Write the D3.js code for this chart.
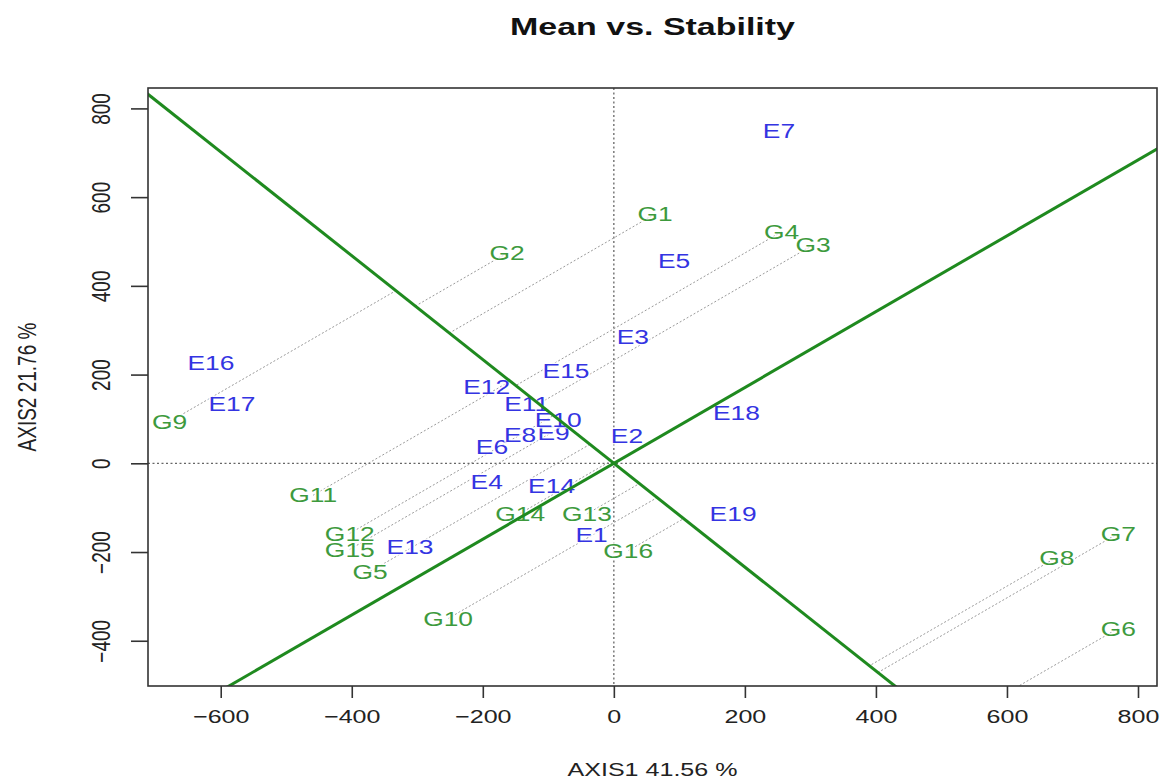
<!DOCTYPE html>
<html>
<head>
<meta charset="utf-8">
<script src="https://cdn.jsdelivr.net/npm/d3@7"></script>
<style>
  body { margin: 0; background: #fff; }
  text { font-family: "Liberation Sans", Arial, sans-serif; }
</style>
</head>
<body>
<svg id="chart" width="1163" height="780"></svg>
<script>
// GGE biplot scores (AXIS1, AXIS2)
const envNames = ["E1", "E2", "E3", "E4", "E5", "E6", "E7", "E8", "E9", "E10",
  "E11", "E12", "E13", "E14", "E15", "E16", "E17", "E18", "E19"];
const envX = [-34, 20, 29, -194, 92, -186, 252, -143, -92, -85,
  -133, -194, -311, -95, -73, -615, -583, 187, 182];
const envY = [-161, 62, 285, -42, 456, 37, 749, 64, 68, 99,
  135, 173, -188, -51, 209, 226, 135, 113, -114];

const genNames = ["G1", "G2", "G3", "G4", "G5", "G6", "G7", "G8",
  "G9", "G10", "G11", "G12", "G13", "G14", "G15", "G16"];
const genX = [63, -163, 304, 256, -372, 770, 770, 676,
  -678, -253, -459, -403, -41, -143, -403, 22];
const genY = [562, 474, 492, 522, -244, -372, -158, -212,
  94, -350, -72, -158, -114, -113, -194, -197];

// average environment coordinate, sets the direction of the mean axis
const meanEnv = [-100, 117];

const xTicks = [-600, -400, -200, 0, 200, 400, 600, 800];
const yTicks = [-400, -200, 0, 200, 400, 600, 800];

const envColor = "#3434e2";
const genColor = "#3d9a3d";
const lineColor = "#1f8a1f";
const stretch = 1.32; // the picture is drawn a bit wide

const svg = d3.select("#chart");
const pLeft = 148, pRight = 1157, pTop = 88, pBottom = 686;

const x = d3.scaleLinear().domain([-711, 829]).range([pLeft, pRight]);
const y = d3.scaleLinear().domain([-502, 846]).range([pBottom, pTop]);

svg.append("defs").append("clipPath").attr("id", "plot")
  .append("rect")
  .attr("x", pLeft).attr("y", pTop)
  .attr("width", pRight - pLeft).attr("height", pBottom - pTop);

const plot = svg.append("g").attr("clip-path", "url(#plot)");

// dotted reference axes through the origin
plot.append("line")
  .attr("x1", pLeft).attr("x2", pRight)
  .attr("y1", y(0)).attr("y2", y(0))
  .attr("stroke", "#666").attr("stroke-width", 1.3)
  .attr("stroke-dasharray", "2,2.5");
plot.append("line")
  .attr("x1", x(0)).attr("x2", x(0))
  .attr("y1", pTop).attr("y2", pBottom)
  .attr("stroke", "#666").attr("stroke-width", 1.3)
  .attr("stroke-dasharray", "2,2.5");

// projection of every genotype on the mean axis
const len = Math.hypot(meanEnv[0], meanEnv[1]);
const ux = meanEnv[0] / len, uy = meanEnv[1] / len;
const genotypes = genNames.map((name, i) => {
  const t = genX[i] * ux + genY[i] * uy;
  return { name, gx: genX[i], gy: genY[i], fx: t * ux, fy: t * uy };
});

plot.append("g")
  .attr("stroke", "#9a9a9a")
  .attr("stroke-width", 1)
  .attr("stroke-dasharray", "2,2")
  .selectAll("line")
  .data(genotypes)
  .join("line")
  .attr("x1", d => x(d.gx)).attr("y1", d => y(d.gy))
  .attr("x2", d => x(d.fx)).attr("y2", d => y(d.fy));

// labels
const addLabels = (names, xs, ys, color) => {
  plot.append("g")
    .selectAll("text")
    .data(names)
    .join("text")
    .attr("transform", (d, i) => `translate(${x(xs[i])},${y(ys[i])}) scale(${stretch},1)`)
    .attr("text-anchor", "middle")
    .attr("dy", "0.36em")
    .attr("font-size", 20)
    .attr("fill", color)
    .attr("stroke", "white")
    .attr("stroke-width", 3)
    .attr("stroke-opacity", 0.8)
    .attr("paint-order", "stroke")
    .text(d => d);
};
addLabels(genNames, genX, genY, genColor);
addLabels(envNames, envX, envY, envColor);

// mean axis and its perpendicular through the origin
const far = 5000;
plot.append("line")
  .attr("x1", x(-far * ux)).attr("y1", y(-far * uy))
  .attr("x2", x(far * ux)).attr("y2", y(far * uy))
  .attr("stroke", lineColor).attr("stroke-width", 3);
plot.append("line")
  .attr("x1", x(-far * uy)).attr("y1", y(far * ux))
  .attr("x2", x(far * uy)).attr("y2", y(-far * ux))
  .attr("stroke", lineColor).attr("stroke-width", 3);

// box
svg.append("rect")
  .attr("x", pLeft).attr("y", pTop)
  .attr("width", pRight - pLeft).attr("height", pBottom - pTop)
  .attr("fill", "none").attr("stroke", "#333").attr("stroke-width", 1.6);

// axes
const gx = svg.append("g")
  .attr("transform", `translate(0,${pBottom})`)
  .call(d3.axisBottom(x).tickValues(xTicks).tickSize(12).tickPadding(12)
    .tickFormat(d => d < 0 ? "\u2212" + Math.abs(d) : d));
gx.select(".domain").remove();
gx.selectAll(".tick line").attr("stroke", "#333").attr("stroke-width", 1.6);
gx.selectAll(".tick text")
  .attr("font-size", 19).attr("fill", "#222")
  .attr("font-family", "Liberation Sans, Arial, sans-serif")
  .attr("transform", `scale(${stretch},1)`);

const gy = svg.append("g")
  .attr("transform", `translate(${pLeft},0)`)
  .call(d3.axisLeft(y).tickValues(yTicks).tickSize(17));
gy.select(".domain").remove();
gy.selectAll(".tick line").attr("stroke", "#333").attr("stroke-width", 1.6);
gy.selectAll(".tick text")
  .attr("x", null).attr("dy", "0.36em")
  .attr("text-anchor", "middle")
  .attr("font-size", 19).attr("fill", "#222")
  .attr("font-family", "Liberation Sans, Arial, sans-serif")
  .attr("transform", `translate(-47,0) scale(${stretch},1) rotate(-90)`);

// titles
svg.append("text")
  .attr("x", (pLeft + pRight) / 2).attr("y", 35)
  .attr("text-anchor", "middle")
  .attr("font-size", 23).attr("font-weight", "bold").attr("fill", "#111")
  .attr("textLength", 285).attr("lengthAdjust", "spacingAndGlyphs")
  .text("Mean vs. Stability");

svg.append("text")
  .attr("transform", `translate(${(pLeft + pRight) / 2},776) scale(${stretch},1)`)
  .attr("text-anchor", "middle")
  .attr("font-size", 19).attr("fill", "#222")
  .text("AXIS1 41.56 %");

svg.append("text")
  .attr("transform", `translate(27,${(pTop + pBottom) / 2}) scale(${stretch},1) rotate(-90)`)
  .attr("text-anchor", "middle")
  .attr("dy", "0.36em")
  .attr("font-size", 19).attr("fill", "#222")
  .text("AXIS2 21.76 %");
</script>
</body>
</html>
